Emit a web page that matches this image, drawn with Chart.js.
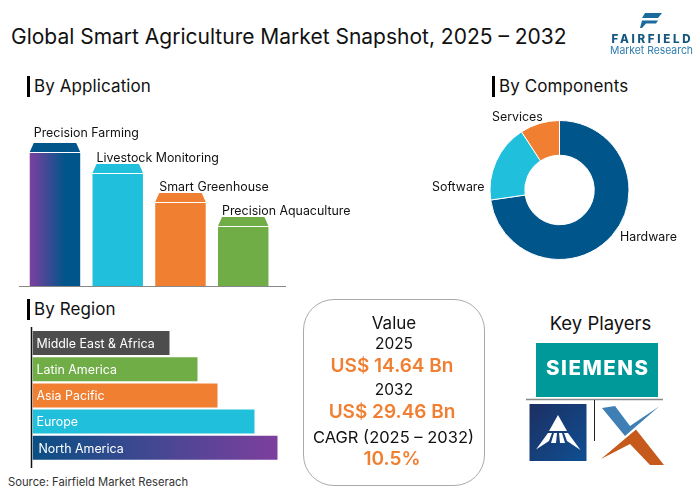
<!DOCTYPE html>
<html>
<head>
<meta charset="utf-8">
<script src="https://cdn.jsdelivr.net/npm/chart.js@4/dist/chart.umd.min.js"></script>
<style>
  html, body { margin: 0; padding: 0; background: #fff; }
  body { width: 700px; height: 491px; position: relative; overflow: hidden; font-family: Inter, "Open Sans", sans-serif; color: #111; }
  .abs { position: absolute; white-space: nowrap; line-height: 1; }
  canvas { position: absolute; }
  .head { font-size: 17px; letter-spacing: 0.1px; }
  .mark { position: absolute; width: 3px; height: 21px; background: #000; }
  .box { position: absolute; left: 303px; top: 299px; width: 180px; height: 185px; border: 1px solid #aaa; border-radius: 31px; }
  .line { position: absolute; left: 303px; width: 182px; text-align: center; line-height: 1; white-space: nowrap; }
  .big { color: #f07f32; font-weight: 600; font-size: 19px; left: 301px; }
  .reg { font-size: 15.5px; }
</style>
</head>
<body>
<div class="abs" style="left:11px;top:26px;font-size:21px;">Global Smart Agriculture Market Snapshot, 2025 – 2032</div>

<div class="mark" style="left:27px;top:76px"></div>
<div class="abs head" style="left:34px;top:78px">By Application</div>
<div class="mark" style="left:492px;top:76px"></div>
<div class="abs head" style="left:499px;top:78px">By Components</div>
<div class="mark" style="left:27px;top:299px"></div>
<div class="abs head" style="left:34px;top:301px">By Region</div>

<canvas id="appChart" style="left:0;top:110px;width:370px;height:190px"></canvas>
<canvas id="compChart" style="left:420px;top:100px;width:280px;height:180px"></canvas>
<canvas id="regionChart" style="left:0;top:320px;width:300px;height:150px"></canvas>

<div class="abs" style="left:8px;top:477px;font-size:11.25px;color:#333;">Source: Fairfield Market Reserach</div>

<div class="box"></div>
<div class="line reg" style="top:315px;font-size:17px">Value</div>
<div class="line reg" style="top:336px">2025</div>
<div class="line big" style="top:356px">US$ 14.64 Bn</div>
<div class="line reg" style="top:382px">2032</div>
<div class="line big" style="top:402px">US$ 29.46 Bn</div>
<div class="line reg" style="top:429px;font-size:16.5px;left:302.5px">CAGR (2025 – 2032)</div>
<div class="line big" style="top:449px">10.5%</div>

<div class="abs" style="left:532px;width:137px;text-align:center;top:314px;font-size:18.5px;">Key Players</div>

<svg class="abs" width="700" height="491" style="left:0;top:0;pointer-events:none">
  <defs>
    <linearGradient id="blueSq" x1="0" y1="0" x2="1" y2="1">
      <stop offset="0" stop-color="#1c2f63"/><stop offset="1" stop-color="#0f4f92"/>
    </linearGradient>
  </defs>
  <!-- fairfield logo -->
  <path d="M645 13 L662 13 L658 18 L642 18 Z M642 20.5 L658 20.5 L656 23.5 L646 23.5 L642 28 L640 28 Z" fill="#1b6a9c"/>
  <text x="651" y="43" text-anchor="middle" font-family="Inter" font-weight="800" font-size="11.5" textLength="79" lengthAdjust="spacing" fill="#14577f">FAIRFIELD</text>
  <text x="651.5" y="54" text-anchor="middle" font-family="Inter" font-size="11" textLength="83" lengthAdjust="spacingAndGlyphs" fill="#2f7fb0">Market Research</text>
  <!-- siemens -->
  <rect x="536" y="343" width="122" height="54" fill="#009999"/>
  <text x="597" y="375" text-anchor="middle" font-family="Inter" font-weight="800" font-size="20.5" textLength="102" lengthAdjust="spacing" fill="#fff">SIEMENS</text>
  <line x1="526" y1="399.5" x2="663" y2="399.5" stroke="#888" stroke-width="1.5"/>
  <line x1="594.5" y1="400" x2="594.5" y2="441" stroke="#222" stroke-width="1"/>
  <rect x="529.5" y="404" width="57" height="57" fill="url(#blueSq)"/>
  <path d="M558 415 L567 431 L549 431 Z M548 433 L552 433 L549 441 L536 449.5 Z M554 433 L557 433 L556 443 L551 443 Z M559 433 L562 433 L565 443 L560 443 Z M564 433 L568 433 L580.5 450 L567 441 Z" fill="#fff"/>
  <path d="M602 408 L615 406 L630 426 L659 406.5 L625 436 Z" fill="#3f7fb5"/>
  <path d="M601 459 L636 429.5 L664 465 L650 465 L630 444 Z" fill="#c65a1c"/>
</svg>

<script>
const appLabels = ["Precision Farming", "Livestock Monitoring", "Smart Greenhouse", "Precision Aquaculture"];
const appValues = [133, 112, 83, 59];
const appColors = ["#00558a", "#20bfdc", "#f07f32", "#70ad47"];

const compLabels = ["Hardware", "Software", "Services"];
const compValues = [72.7, 18.1, 9.2];
const compColors = ["#00558a", "#20bfdc", "#f07f32"];

const regionLabels = ["Middle East & Africa", "Latin America", "Asia Pacific", "Europe", "North America"];
const regionValues = [137, 165, 185, 222, 245];
const regionColors = ["#4d4d4d", "#70ad47", "#f07f32", "#20bfdc", "#00558a"];

const labelFont = '12.4px Inter';
const capHeight = 10;

Chart.defaults.animation = false;
Chart.defaults.responsive = false;
Chart.defaults.plugins.legend.display = false;
Chart.defaults.plugins.tooltip.enabled = false;

// first bar fades purple to blue, the others are flat
function appFill(ctx) {
  if (ctx.dataIndex != 0) return appColors[ctx.dataIndex];
  const scale = ctx.chart.scales.x;
  const half = scale.width / appLabels.length * 0.804 / 2;
  const mid = scale.getPixelForValue(0);
  if (!isFinite(mid) || !isFinite(half)) return appColors[0];
  const g = ctx.chart.ctx.createLinearGradient(mid - half, 0, mid + half, 0);
  g.addColorStop(0, "#7d3f9e");
  g.addColorStop(0.7, "#00558a");
  return g;
}

function regionFill(ctx) {
  if (ctx.dataIndex != 4) return regionColors[ctx.dataIndex];
  const scale = ctx.chart.scales.x;
  const x0 = scale.getPixelForValue(0);
  const x1 = scale.getPixelForValue(regionValues[4]);
  if (!isFinite(x0) || !isFinite(x1)) return regionColors[4];
  const g = ctx.chart.ctx.createLinearGradient(x0, 0, x1, 0);
  g.addColorStop(0, "#0b4f85");
  g.addColorStop(1, "#7d3f9e");
  return g;
}

// cap on top of each bar, base line and name above the bar
const appDecor = {
  id: "appDecor",
  afterDatasetsDraw(chart) {
    const c = chart.ctx;
    const y0 = chart.scales.y.getPixelForValue(0);
    chart.getDatasetMeta(0).data.forEach((bar, i) => {
      const l = bar.x - bar.width / 2, r = bar.x + bar.width / 2;
      c.fillStyle = appColors[i];
      c.beginPath();
      c.moveTo(l, bar.y - 1);
      c.lineTo(l + 4, bar.y - capHeight);
      c.lineTo(r - 4, bar.y - capHeight);
      c.lineTo(r, bar.y - 1);
      c.closePath();
      c.fill();
      c.fillStyle = "#111";
      c.font = labelFont;
      c.textBaseline = "alphabetic";
      c.fillText(appLabels[i], l + 4, bar.y - capHeight - (i == 0 ? 6 : 2));
    });
    c.strokeStyle = "#888";
    c.lineWidth = 1;
    c.beginPath();
    c.moveTo(19, y0 + 0.5);
    c.lineTo(286, y0 + 0.5);
    c.stroke();
  }
};

new Chart(document.getElementById("appChart"), {
  type: "bar",
  data: { labels: appLabels, datasets: [{ data: appValues, backgroundColor: appFill, barPercentage: 0.804, categoryPercentage: 1 }] },
  options: {
    layout: { padding: { left: 23.6, right: 95.4, top: 10, bottom: 14 } },
    scales: {
      x: { display: false },
      y: { display: false, min: 0, max: 166 }
    }
  },
  plugins: [appDecor]
});

const compDecor = {
  id: "compDecor",
  afterDraw(chart) {
    const c = chart.ctx;
    c.fillStyle = "#111";
    c.font = labelFont;
    c.fillText("Hardware", 200, 141);
    c.fillText("Software", 12, 91);
    c.fillText("Services", 72, 21);
  }
};

new Chart(document.getElementById("compChart"), {
  type: "doughnut",
  data: { labels: compLabels, datasets: [{ data: compValues, backgroundColor: compColors, borderColor: "#fff", borderWidth: 1 }] },
  options: { cutout: "50%", layout: { padding: { left: 69.5, right: 70.5, top: 20, bottom: 20 } } },
  plugins: [compDecor]
});

const regionDecor = {
  id: "regionDecor",
  afterDatasetsDraw(chart) {
    const c = chart.ctx;
    const x0 = chart.scales.x.getPixelForValue(0);
    chart.getDatasetMeta(0).data.forEach((bar, i) => {
      c.fillStyle = "#fff";
      c.font = labelFont;
      c.textBaseline = "middle";
      c.fillText(regionLabels[i], x0 + (i == 4 ? 6 : 4), bar.y + 1);
    });
    c.strokeStyle = "#111";
    c.lineWidth = 1.5;
    c.beginPath();
    c.moveTo(31.5, 7);
    c.lineTo(31.5, 148);
    c.stroke();
  }
};

new Chart(document.getElementById("regionChart"), {
  type: "bar",
  data: { labels: regionLabels, datasets: [{ data: regionValues, backgroundColor: regionFill, barPercentage: 0.916, categoryPercentage: 1 }] },
  options: {
    indexAxis: "y",
    layout: { padding: { left: 32.5, right: 0, top: 9.9, bottom: 9.1 } },
    scales: {
      x: { display: false, min: 0, max: 267.5 },
      y: { display: false }
    }
  },
  plugins: [regionDecor]
});
</script>
</body>
</html>
